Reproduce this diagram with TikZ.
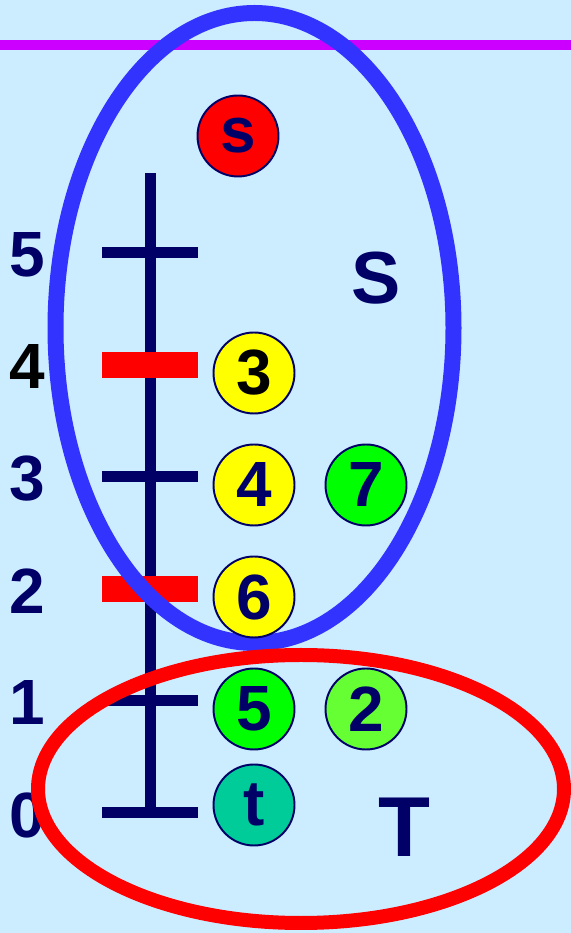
\documentclass[tikz,border=0pt]{standalone}
\usepackage{fontspec}
\setmainfont{Liberation Sans}
\usepackage{xcolor}
\usetikzlibrary{positioning}
\definecolor{bgblue}{HTML}{CCECFF}
\definecolor{linemag}{HTML}{CC00FF}
\definecolor{setblue}{HTML}{3333FF}
\definecolor{setred}{HTML}{FF0000}
\definecolor{navy}{HTML}{000066}
\definecolor{vyellow}{HTML}{FFFF00}
\definecolor{vgreen}{HTML}{00FF00}
\definecolor{vlgreen}{HTML}{66FF33}
\definecolor{vteal}{HTML}{00CC99}

\begin{document}
\begin{tikzpicture}[x=0.02cm, y=0.02cm,
  font=\bfseries\fontsize{36.4}{40}\selectfont,
  vert/.style={circle, draw=navy, line width=1.1pt, minimum size=1.62cm, inner sep=0pt, text=navy},
  tickmark/.style={navy, line width=0.22cm},
  cutmark/.style={setred, line width=0.53cm}]
  \fill[bgblue] (0,0) rectangle (571,933);
  \useasboundingbox (0,0) rectangle (571,933);
  \draw[linemag, line width=0.2cm] (0,888) -- (571,888);
  % height scale
  \coordinate (axtop) at (150,760);
  \coordinate (axbot) at (150,120);
  \draw[tickmark] (axtop) -- (axbot);
  \foreach \k/\c in {0/navy,1/navy,2/navy,3/navy,4/black,5/navy}{
    \draw[tickmark] (102,120+112*\k) -- (198,120+112*\k);
    \node[text=\c] (lab\k) at (27,118+112*\k) {\k};}
  \foreach \k in {2,4}{\draw[cutmark] (102,120+112*\k) -- (198,120+112*\k);}
  % the two sides of the cut
  \draw[setblue, line width=0.32cm] (254.5,605) ellipse [x radius=199, y radius=315];
  \draw[setred, line width=0.28cm] (301,144) ellipse [x radius=263, y radius=134];
  \node[text=navy, font=\bfseries\fontsize{42}{46}\selectfont] (setS) at (376,654.5) {S};
  \node[text=navy, font=\bfseries\fontsize{48.4}{52}\selectfont] (setT) at (404,105.5) {T};
  % vertices
  \node[vert, fill=setred] (vs) at (238,797) {s};
  \node[vert, fill=vyellow, text=black] (v3) at (254,560) {3};
  \node[vert, fill=vyellow] (v4) at (254,448) {4};
  \node[vert, fill=vgreen] (v7) at (366,448) {7};
  \node[vert, fill=vyellow] (v6) at (254,336) {6};
  \node[vert, fill=vgreen] (v5) at (254,224) {5};
  \node[vert, fill=vlgreen] (v2) at (366,224) {2};
  \node[vert, fill=vteal] (vt) at (254,128) {t};
\end{tikzpicture}
\end{document}
